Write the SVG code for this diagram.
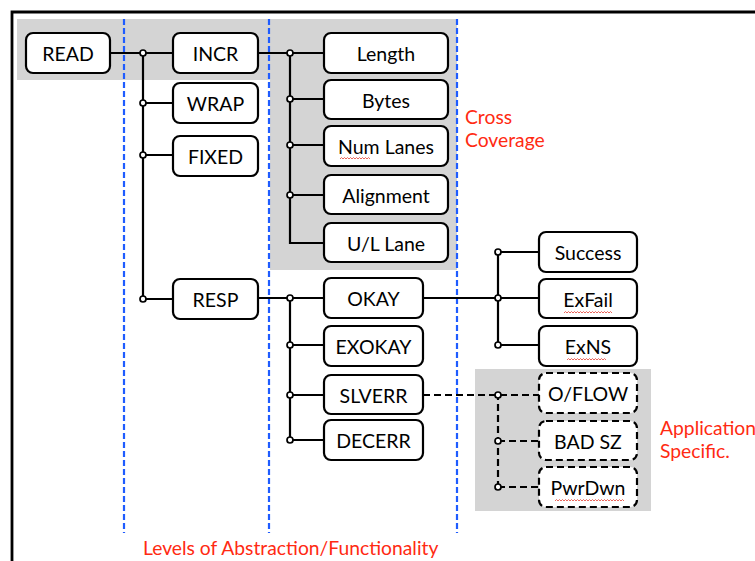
<svg xmlns="http://www.w3.org/2000/svg" width="755" height="561" viewBox="0 0 755 561">
<defs>
<style>
.bx{fill:#fff;stroke:#000;stroke-width:2.2}
.dbx{fill:#fff;stroke:#000;stroke-width:2.2;stroke-dasharray:7 4}
.t{font-family:Lato,"Open Sans","Liberation Sans",sans-serif;font-size:19.5px;fill:#000;text-anchor:middle}
.red{font-family:Lato,"Open Sans","Liberation Sans",sans-serif;font-size:19.3px;fill:#ff2a12}
.ln{fill:none;stroke:#000;stroke-width:2.2}
.dl{fill:none;stroke:#000;stroke-width:2.2;stroke-dasharray:7 4}
.jn{fill:#fff;stroke:#000;stroke-width:1.7}
.lv{stroke:#1f5cff;stroke-width:2.2;stroke-dasharray:6 3}
.sq{fill:none;stroke:#e8554a;stroke-width:0.9}
</style>
</defs>
<rect width="755" height="561" fill="#fff"/>
<path d="M12 561 V12 H755" fill="none" stroke="#000" stroke-width="2.8"/>
<g id="bg">
<path d="M17 19 H457 V270 H270 V80 H17 Z" fill="#d4d4d4"/>
<rect x="475" y="369" width="176" height="142" fill="#d4d4d4"/>
</g>
<g id="levels">
<line class="lv" x1="124" y1="19" x2="124" y2="533"/>
<line class="lv" x1="269" y1="19" x2="269" y2="533"/>
<line class="lv" x1="457" y1="19" x2="457" y2="533"/>
</g>
<g id="connectors">
<path class="ln" d="M110 53 H173 M143 53 V299 M143 103 H173 M143 155 H173 M143 299 H173"/>
<path class="ln" d="M258 53 H324 M290 53 V243 H324 M290 99 H324 M290 145 H324 M290 195 H324"/>
<path class="ln" d="M258 298 H324 M290 298 V440 H324 M290 345 H324 M290 395 H324"/>
<path class="ln" d="M423 298 H539 M498 252 V345 M498 252 H539 M498 345 H539"/>
<path class="dl" d="M423 395 H539 M498 393 V487 M498 441 H539 M498 487 H539"/>
<circle class="jn" cx="143" cy="53" r="3"/>
<circle class="jn" cx="143" cy="103" r="3"/>
<circle class="jn" cx="143" cy="155" r="3"/>
<circle class="jn" cx="143" cy="299" r="3"/>
<circle class="jn" cx="290" cy="53" r="3"/>
<circle class="jn" cx="290" cy="99" r="3"/>
<circle class="jn" cx="290" cy="145" r="3"/>
<circle class="jn" cx="290" cy="195" r="3"/>
<circle class="jn" cx="290" cy="298" r="3"/>
<circle class="jn" cx="290" cy="345" r="3"/>
<circle class="jn" cx="290" cy="395" r="3"/>
<circle class="jn" cx="290" cy="440" r="3"/>
<circle class="jn" cx="498" cy="252" r="3"/>
<circle class="jn" cx="498" cy="298" r="3"/>
<circle class="jn" cx="498" cy="345" r="3"/>
<circle class="jn" cx="498" cy="395" r="3"/>
<circle class="jn" cx="498" cy="441" r="3"/>
<circle class="jn" cx="498" cy="487" r="3"/>
</g>
<g id="READ"><rect class="bx" x="26" y="33" width="84" height="40" rx="7"/><text class="t" x="68" y="61">READ</text></g>
<g id="INCR"><rect class="bx" x="173" y="33" width="85" height="40" rx="7"/><text class="t" x="215.5" y="61">INCR</text></g>
<g id="WRAP"><rect class="bx" x="173" y="83" width="85" height="40" rx="7"/><text class="t" x="215.5" y="111">WRAP</text></g>
<g id="FIXED"><rect class="bx" x="173" y="136" width="85" height="40" rx="7"/><text class="t" x="215.5" y="164">FIXED</text></g>
<g id="RESP"><rect class="bx" x="173" y="279" width="85" height="40" rx="7"/><text class="t" x="215.5" y="307">RESP</text></g>
<g id="Length"><rect class="bx" x="324" y="33" width="124" height="40" rx="7"/><text class="t" x="386" y="61">Length</text></g>
<g id="Bytes"><rect class="bx" x="324" y="80" width="124" height="39" rx="7"/><text class="t" x="386" y="108">Bytes</text></g>
<g id="NumLanes"><rect class="bx" x="324" y="126" width="124" height="40" rx="7"/><text class="t" x="386" y="154">Num Lanes</text><path class="sq" d="M340 159 l1.5 -1.5 l1.5 1.5 l1.5 -1.5 l1.5 1.5 l1.5 -1.5 l1.5 1.5 l1.5 -1.5 l1.5 1.5 l1.5 -1.5 l1.5 1.5 l1.5 -1.5 l1.5 1.5 l1.5 -1.5 l1.5 1.5 l1.5 -1.5 l1.5 1.5 l1.5 -1.5 l1.5 1.5 l1.5 -1.5 l1.5 1.5"/></g>
<g id="Alignment"><rect class="bx" x="324" y="175" width="124" height="39" rx="7"/><text class="t" x="386" y="203">Alignment</text></g>
<g id="ULLane"><rect class="bx" x="324" y="223" width="124" height="39" rx="7"/><text class="t" x="386" y="251">U/L Lane</text></g>
<g id="OKAY"><rect class="bx" x="324" y="278" width="99" height="40" rx="7"/><text class="t" x="373.5" y="306">OKAY</text></g>
<g id="EXOKAY"><rect class="bx" x="324" y="326" width="99" height="40" rx="7"/><text class="t" x="373.5" y="354">EXOKAY</text></g>
<g id="SLVERR"><rect class="bx" x="324" y="375" width="99" height="39" rx="7"/><text class="t" x="373.5" y="403">SLVERR</text></g>
<g id="DECERR"><rect class="bx" x="324" y="420" width="99" height="40" rx="7"/><text class="t" x="373.5" y="448">DECERR</text></g>
<g id="Success"><rect class="bx" x="539" y="232" width="98" height="40" rx="7"/><text class="t" x="588" y="260">Success</text></g>
<g id="ExFail"><rect class="bx" x="539" y="279" width="98" height="39" rx="7"/><text class="t" x="588" y="307">ExFail</text><path class="sq" d="M564 313 l1.5 -1.5 l1.5 1.5 l1.5 -1.5 l1.5 1.5 l1.5 -1.5 l1.5 1.5 l1.5 -1.5 l1.5 1.5 l1.5 -1.5 l1.5 1.5 l1.5 -1.5 l1.5 1.5 l1.5 -1.5 l1.5 1.5 l1.5 -1.5 l1.5 1.5 l1.5 -1.5 l1.5 1.5 l1.5 -1.5 l1.5 1.5 l1.5 -1.5 l1.5 1.5 l1.5 -1.5 l1.5 1.5 l1.5 -1.5 l1.5 1.5 l1.5 -1.5 l1.5 1.5 l1.5 -1.5 l1.5 1.5 l1.5 -1.5 l1.5 1.5"/></g>
<g id="ExNS"><rect class="bx" x="539" y="326" width="98" height="40" rx="7"/><text class="t" x="588" y="354">ExNS</text><path class="sq" d="M567 360 l1.5 -1.5 l1.5 1.5 l1.5 -1.5 l1.5 1.5 l1.5 -1.5 l1.5 1.5 l1.5 -1.5 l1.5 1.5 l1.5 -1.5 l1.5 1.5 l1.5 -1.5 l1.5 1.5 l1.5 -1.5 l1.5 1.5 l1.5 -1.5 l1.5 1.5 l1.5 -1.5 l1.5 1.5 l1.5 -1.5 l1.5 1.5 l1.5 -1.5 l1.5 1.5 l1.5 -1.5 l1.5 1.5 l1.5 -1.5 l1.5 1.5"/></g>
<g id="OFLOW"><rect class="dbx" x="539" y="373" width="98" height="40" rx="7"/><text class="t" x="588" y="401">O/FLOW</text></g>
<g id="BADSZ"><rect class="dbx" x="539" y="421" width="98" height="39" rx="7"/><text class="t" x="588" y="449">BAD SZ</text></g>
<g id="PwrDwn"><rect class="dbx" x="539" y="467" width="98" height="40" rx="7"/><text class="t" x="588" y="495">PwrDwn</text><path class="sq" d="M555 501 l1.5 -1.5 l1.5 1.5 l1.5 -1.5 l1.5 1.5 l1.5 -1.5 l1.5 1.5 l1.5 -1.5 l1.5 1.5 l1.5 -1.5 l1.5 1.5 l1.5 -1.5 l1.5 1.5 l1.5 -1.5 l1.5 1.5 l1.5 -1.5 l1.5 1.5 l1.5 -1.5 l1.5 1.5 l1.5 -1.5 l1.5 1.5 l1.5 -1.5 l1.5 1.5 l1.5 -1.5 l1.5 1.5 l1.5 -1.5 l1.5 1.5 l1.5 -1.5 l1.5 1.5 l1.5 -1.5 l1.5 1.5 l1.5 -1.5 l1.5 1.5 l1.5 -1.5 l1.5 1.5 l1.5 -1.5 l1.5 1.5 l1.5 -1.5 l1.5 1.5 l1.5 -1.5 l1.5 1.5 l1.5 -1.5 l1.5 1.5 l1.5 -1.5 l1.5 1.5 l1.5 -1.5 l1.5 1.5"/></g>
<g id="labels">
<text class="red" x="465" y="124">Cross</text>
<text class="red" x="465" y="147">Coverage</text>
<text class="red" x="660" y="435">Application</text>
<text class="red" x="660" y="458">Specific.</text>
<text class="red" x="143" y="555">Levels of Abstraction/Functionality</text>
</g>
</svg>
